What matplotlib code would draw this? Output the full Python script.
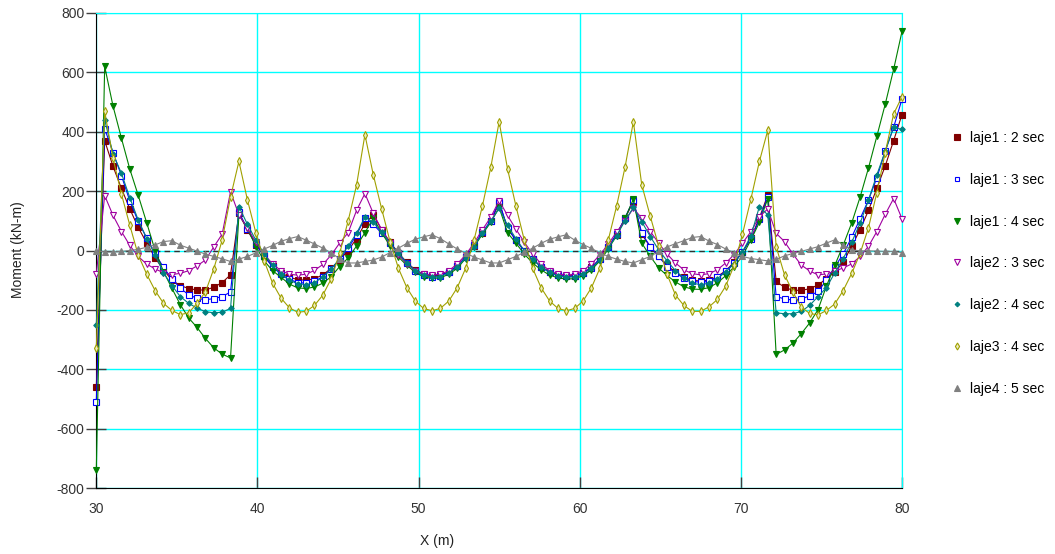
import matplotlib
matplotlib.use('Agg')
import matplotlib.pyplot as plt
from matplotlib.lines import Line2D

plt.rcParams['font.family'] = ['Liberation Sans', 'DejaVu Sans']
plt.rcParams['axes.unicode_minus'] = False

# Stations along the deck (m)
X = [30.00, 30.52, 31.04, 31.56, 32.08, 32.60, 33.13, 33.65, 34.17, 34.69, 35.21, 35.73, 36.25, 36.77, 37.29, 37.81, 38.33,
     38.85, 39.38, 39.90, 40.42, 40.94, 41.46, 41.98, 42.50, 43.02, 43.54, 44.06, 44.58, 45.10, 45.63, 46.15, 46.67,
     47.19, 47.71, 48.23, 48.75, 49.27, 49.79, 50.31, 50.83, 51.35, 51.88, 52.40, 52.92, 53.44, 53.96, 54.48, 55.00,
     55.52, 56.04, 56.56, 57.08, 57.60, 58.13, 58.65, 59.17, 59.69, 60.21, 60.73, 61.25, 61.77, 62.29, 62.81, 63.33,
     63.85, 64.38, 64.90, 65.42, 65.94, 66.46, 66.98, 67.50, 68.02, 68.54, 69.06, 69.58, 70.10, 70.63, 71.15, 71.67,
     72.19, 72.71, 73.23, 73.75, 74.27, 74.79, 75.31, 75.83, 76.35, 76.88, 77.40, 77.92, 78.44, 78.96, 79.48, 80.00]

# Moments (kN-m)
laje1_2 = [-460, 370, 283, 209, 140, 78, 25, -25, -65, -100, -118, -128, -133, -133, -124, -108, -82,
           125, 68, 20, -20, -52, -75, -90, -98, -100, -95, -82, -60, -32, 0, 40, 90,
           120, 70, 28, -8, -40, -65, -80, -85, -83, -72, -52, -22, 15, 58, 98, 160,
           75, 35, -2, -30, -54, -72, -81, -85, -85, -75, -57, -28, 12, 53, 108, 165,
           55, 12, -20, -50, -73, -90, -100, -103, -100, -88, -68, -40, -5, 42, 110, 187,
           -104, -124, -134, -134, -129, -116, -95, -72, -40, 15, 70, 135, 210, 285, 370, 458]

laje1_3 = [-510, 410, 330, 252, 167, 98, 42, -10, -57, -95, -127, -149, -161, -166, -162, -155, -140,
           130, 72, 22, -20, -55, -80, -97, -108, -110, -104, -88, -62, -30, 8, 52, 110,
           88, 58, 25, -10, -42, -68, -84, -88, -85, -72, -52, -22, 17, 62, 100, 165,
           75, 35, -2, -30, -54, -74, -83, -87, -87, -76, -58, -28, 13, 55, 110, 170,
           58, 13, -20, -54, -76, -93, -104, -107, -104, -90, -70, -42, -5, 40, 105, 181,
           -155, -163, -167, -163, -153, -138, -100, -55, -12, 45, 107, 170, 245, 335, 415, 510]

laje1_4 = [-740, 620, 486, 378, 274, 186, 93, 0, -71, -127, -182, -227, -259, -296, -328, -349, -362,
           120, 75, 13, -35, -68, -90, -113, -126, -128, -123, -110, -88, -54, -25, 15, 60,
           109, 60, 15, -22, -50, -73, -89, -94, -92, -80, -60, -27, 12, 55, 95, 145,
           60, 25, -12, -42, -65, -83, -92, -96, -95, -85, -65, -35, 5, 50, 108, 173,
           25, -20, -59, -84, -106, -122, -130, -131, -125, -109, -85, -55, -18, 36, 95, 175,
           -350, -335, -312, -280, -244, -199, -120, -50, 18, 93, 180, 278, 385, 493, 610, 738]

laje2_3 = [-80, 185, 118, 64, 17, -20, -46, -62, -75, -81, -77, -68, -52, -32, 12, 55, 198,
           120, 76, 28, -13, -45, -68, -80, -83, -80, -67, -47, -15, 25, 60, 135, 192,
           125, 70, 25, -15, -45, -68, -80, -83, -80, -68, -45, -15, 25, 70, 112, 168,
           118, 72, 28, -12, -45, -68, -80, -83, -80, -68, -45, -15, 22, 62, 100, 142,
           109, 64, 25, -12, -42, -65, -78, -82, -78, -65, -42, -14, 25, 64, 114, 140,
           58, 30, -12, -49, -69, -82, -79, -69, -59, -45, -20, 14, 64, 122, 175, 107]

laje2_4 = [-250, 440, 325, 260, 178, 103, 40, -15, -75, -118, -155, -178, -194, -206, -210, -208, -195,
           148, 88, 35, -12, -50, -80, -100, -112, -115, -108, -90, -62, -28, 15, 58, 112,
           95, 62, 25, -10, -42, -68, -84, -90, -88, -75, -55, -25, 13, 58, 98, 142,
           85, 40, 0, -30, -55, -74, -85, -90, -89, -79, -60, -32, 8, 50, 100, 145,
           97, 47, 2, -35, -68, -93, -110, -115, -110, -95, -72, -45, -5, 50, 148, 120,
           -210, -213, -213, -205, -185, -155, -125, -75, -27, 28, 92, 170, 255, 335, 415, 408]

laje3_4 = [-330, 469, 310, 190, 85, -15, -80, -135, -178, -202, -216, -210, -178, -140, -62, 35, 180,
           300, 170, 60, -35, -110, -160, -193, -208, -205, -185, -150, -95, -10, 100, 220, 390,
           255, 140, 30, -60, -125, -170, -195, -203, -195, -170, -125, -60, 35, 150, 280, 434,
           275, 150, 35, -60, -125, -170, -195, -203, -195, -170, -125, -60, 35, 150, 280, 434,
           221, 115, 15, -80, -150, -185, -205, -205, -190, -165, -120, -50, 55, 175, 300, 405,
           13, -82, -140, -191, -212, -217, -202, -180, -135, -77, -10, 77, 195, 330, 460, 518]

laje4_5 = [0, -5, -5, -3, 0, 4, 11, 19, 30, 33, 18, 8, -2, -12, -20, -28, -37,
           -29, -20, -8, 5, 17, 31, 40, 47, 35, 22, 8, -8, -28, -42, -42, -37,
           -32, -22, -7, 8, 24, 38, 46, 53, 40, 22, 5, -9, -22, -32, -42, -42,
           -31, -20, -6, 8, 24, 38, 46, 53, 35, 20, 7, -8, -20, -29, -37, -42,
           -31, -20, -3, 12, 23, 33, 44, 47, 32, 20, 5, -8, -20, -27, -31, -35,
           -30, -18, -10, -3, 5, 13, 25, 36, 19, 2, -1, -1, -2, -3, -3, -7]

LABELS = ['laje1 : 2 sec', 'laje1 : 3 sec', 'laje1 : 4 sec', 'laje2 : 3 sec',
          'laje2 : 4 sec', 'laje3 : 4 sec', 'laje4 : 5 sec']
SERIES = [laje1_2, laje1_3, laje1_4, laje2_3, laje2_4, laje3_4, laje4_5]

# colour, marker, size, face colour
STYLES = [('#800000', 's', 4.4, '#800000'),
          ('#0000ff', 's', 4.0, 'white'),
          ('#008000', 'v', 4.4, '#008000'),
          ('#a000a0', 'v', 4.4, 'white'),
          ('#008080', 'D', 2.8, '#008080'),
          ('#a0a000', 'd', 4.2, '#ecebc0'),
          ('#808080', '^', 4.4, '#808080')]

fig = plt.figure(figsize=(10.55, 5.54), dpi=100)
ax = fig.add_axes([96.3 / 1055, 1 - 488 / 554, (902 - 96.3) / 1055, (488 - 13) / 554])

handles = []
for y, (col, mk, ms, fc), lab in zip(SERIES, STYLES, LABELS):
    ax.plot(X, y, color=col, lw=0.8, marker=mk, ms=ms, mfc=fc, mec=col, mew=0.8,
            clip_on=False, zorder=3)
    handles.append(Line2D([], [], ls='', marker=mk, ms=ms * 0.85, mfc=fc, mec=col, mew=0.8))

ax.axhline(0, color='#303030', ls=(0, (4, 3)), lw=1, zorder=2.5)

ax.set_xlim(30, 80)
ax.set_ylim(-800, 800)
ax.set_xticks([30, 40, 50, 60, 70, 80])
ax.set_yticks(range(-800, 801, 200))
ax.grid(True, color='#00ffff', lw=1)
ax.set_axisbelow(True)

for s in ['top', 'right']:
    ax.spines[s].set_color('#00ffff')
for s in ['left', 'bottom']:
    ax.spines[s].set_color('black')

ax.tick_params(axis='y', direction='inout', length=14, width=1, color='#404040',
               labelsize=10, labelcolor='#333333', pad=1.5)
ax.tick_params(axis='x', direction='in', length=8, width=1, color='#404040',
               labelsize=10, labelcolor='#333333', pad=10)

fig.text(18 / 1055, 1 - 250 / 554, 'Moment (kN-m)', rotation=90, ha='center', va='center',
         fontsize=10, color='#222222')
fig.text(437 / 1055, 1 - 541 / 554, 'X (m)', ha='center', va='center', fontsize=10, color='#222222')

fig.legend(handles, LABELS, loc='upper left', bbox_to_anchor=(951 / 1055, 1 - 131 / 554),
           frameon=False, fontsize=10, labelspacing=2.0, handlelength=0.8,
           handletextpad=0.6, borderpad=0, borderaxespad=0)

fig.savefig('out.png', dpi=100)
